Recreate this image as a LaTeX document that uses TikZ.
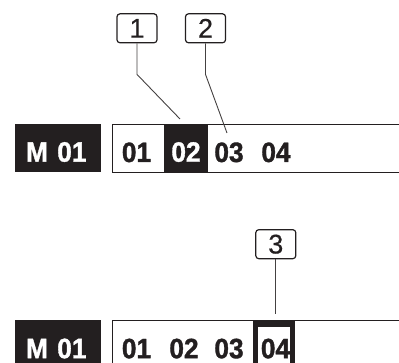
\documentclass[tikz,border=0pt]{standalone}
\usepackage{fontspec}
\setmainfont{Liberation Sans}
\newfontfamily\numfont[FakeStretch=0.94,FakeBold=1.2]{Liberation Sans Bold}
\newfontfamily\calloutfont[FakeBold=0.5]{Liberation Sans}
\usepackage{tikz}
\definecolor{ink}{HTML}{231F20}

\begin{document}
\begin{tikzpicture}[x=1pt,y=-1pt]
	\tikzstyle{num}=[inner sep=0pt,anchor=base,text=ink,font=\numfont\fontsize{28}{28}\selectfont]
	\tikzstyle{blackbox}=[fill=ink,text=white,inner sep=0pt,text height=27pt,text depth=0pt,font=\numfont\fontsize{28}{28}\selectfont]
	\tikzstyle{callout}=[draw=ink,line width=1.2pt,rounded corners=3pt,minimum width=40pt,minimum height=29pt,inner sep=0pt,text=ink,font=\calloutfont\fontsize{27}{27}\selectfont]
	\tikzstyle{leader}=[draw=ink!85,line width=0.9pt]
	\tikzstyle{panel}=[draw=ink,line width=0.9pt]
	\useasboundingbox (0,0) rectangle (399,363);
	\clip (0,0) rectangle (399,363);
	% upper row
	\node[blackbox,minimum height=48.3pt,text width=63.7pt,inner xsep=11pt,align=left] (m1) at (57.85,148.15) {M 01};
	\draw[panel] (410,124.5) -- (112.3,124.5) -- (112.3,172) -- (410,172);
	\node[num] (a1) at (136.5,162) {01};
	\node[blackbox,minimum width=44pt,minimum height=47.5pt] (a2) at (186,148.2) {02};
	\node[num] (a3) at (229,162) {03};
	\node[num] (a4) at (276,162) {04};
	\node[callout] (l1) at (137,28.3) {1};
	\node[callout] (l2) at (205.5,28.3) {2};
	\coordinate (p1) at (180,119);
	\coordinate (p2) at (227,133);
	\draw[leader] (l1.south) -- ++(0,31) -- (p1);
	\draw[leader] (l2.south) -- ++(0,31) -- (p2);
	% lower row
	\node[blackbox,minimum height=48.3pt,text width=63.7pt,inner xsep=11pt,align=left] (m2) at (57.85,344.65) {M 01};
	\draw[panel] (410,320.8) -- (112.3,320.8) -- (112.3,370);
	\fill[ink] (253.3,320.3) rectangle (295.3,370);
	\node[num] (b1) at (136.5,358.2) {01};
	\node[num] (b2) at (184,358.2) {02};
	\node[num] (b3) at (229,358.2) {03};
	\node[fill=white,inner sep=0pt,minimum width=32pt,minimum height=40pt,anchor=north] (b4) at (274.3,327.3) {};
	\node[num] at (275.5,358.2) {04};
	\node[callout] (l3) at (275.8,244.2) {3};
	\coordinate (p3) at (275.8,314);
	\draw[leader] (l3.south) -- (p3);
\end{tikzpicture}
\end{document}
